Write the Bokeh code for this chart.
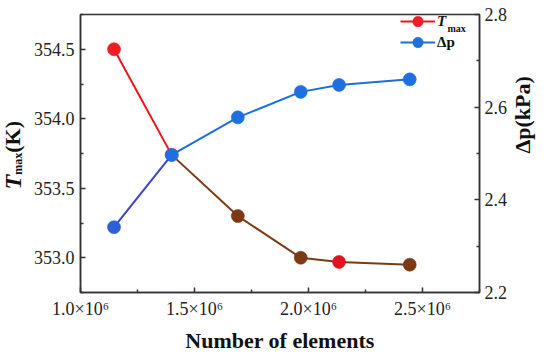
import math
from bokeh.plotting import figure
from bokeh.layouts import row
from bokeh.models import (Range1d, LinearAxis, FixedTicker, CustomJSTickFormatter, Div,
                          NumeralTickFormatter, Label, Legend, LegendItem, ColumnDataSource)
from bokeh.embed import file_html
from bokeh.resources import INLINE

# ---- data ----
n_elements = [1.147e6, 1.400e6, 1.690e6, 1.966e6, 2.134e6, 2.444e6]
t_max = [354.50, 353.74, 353.30, 353.00, 352.97, 352.95]
dp = [2.341, 2.497, 2.578, 2.633, 2.648, 2.660]

x_ticks = [1.0e6, 1.5e6, 2.0e6, 2.5e6]
x_minor = [1.25e6, 1.75e6, 2.25e6, 2.75e6]
t_ticks = [353.0, 353.5, 354.0, 354.5]
t_minor = [352.75, 353.25, 353.75, 354.25, 354.75]
dp_ticks = [2.2, 2.4, 2.6, 2.8]
dp_minor = [2.3, 2.5, 2.7]

# ---- styles ----
t_seg_colors = ["#e8161c", "#7a3b14", "#7a3b14", "#7a3b14", "#7a3b14"]
t_pt_colors = ["#ee1c24", "#ee1c24", "#7b3a14", "#7b3a14", "#e0141c", "#7b3a14"]
dp_seg_colors = ["#3d42c9", "#1a6fd8", "#1a6fd8", "#1a6fd8", "#1a6fd8"]
dp_pt_colors = ["#2f5fd8", "#1e6fe0", "#1e6fe0", "#1e6fe0", "#1e6fe0", "#1e6fe0"]

FONT = "Liberation Serif"
AX = "#333333"

p = figure(width=522, height=355, output_backend="svg", toolbar_location=None,
           x_range=Range1d(1.0e6, 2.75e6), y_range=Range1d(352.75, 354.75))
p.min_border = 0
p.min_border_left = 52
p.min_border_right = 64
p.min_border_top = 14
p.min_border_bottom = 56
p.xgrid.visible = False
p.ygrid.visible = False
p.outline_line_color = AX
p.outline_line_width = 1.5
p.background_fill_color = "white"
p.border_fill_color = "white"

p.extra_y_ranges = {"dp": Range1d(2.2, 2.8)}
raxis = LinearAxis(y_range_name="dp")
p.add_layout(raxis, "right")

p.xaxis.ticker = FixedTicker(ticks=x_ticks, minor_ticks=x_minor)
p.xaxis.formatter = CustomJSTickFormatter(code="return (tick/1e6).toFixed(1) + '\u00d710\u2076';")
p.yaxis[0].ticker = FixedTicker(ticks=t_ticks, minor_ticks=t_minor)
p.yaxis[0].formatter = NumeralTickFormatter(format="0.0")
raxis.ticker = FixedTicker(ticks=dp_ticks, minor_ticks=dp_minor)
raxis.formatter = NumeralTickFormatter(format="0.0")

for ax in [p.xaxis[0], p.yaxis[0], raxis]:
    ax.axis_line_color = AX
    ax.axis_line_width = 1.5
    ax.major_tick_line_color = AX
    ax.minor_tick_line_color = AX
    ax.major_tick_line_width = 1.5
    ax.minor_tick_line_width = 1.5
    ax.major_tick_in = 5
    ax.major_tick_out = 0
    ax.minor_tick_in = 3
    ax.minor_tick_out = 0
    ax.major_label_text_font = FONT
    ax.major_label_text_font_size = "18px"
    ax.major_label_text_color = "#222222"
    ax.major_label_standoff = 6

for ax, txt in [(p.xaxis[0], "Number of elements"), (raxis, "\u0394p(kPa)")]:
    ax.axis_label = txt
    ax.axis_label_text_font = FONT
    ax.axis_label_text_font_size = "22px"
    ax.axis_label_text_font_style = "bold"
    ax.axis_label_text_color = "#111111"
    ax.axis_label_standoff = 6
raxis.axis_label_standoff = 12
raxis.major_label_standoff = 5
raxis.axis_label_orientation = math.pi / 2

# ---- T_max series ----
t_seg = ColumnDataSource(dict(x0=n_elements[:-1], y0=t_max[:-1], x1=n_elements[1:], y1=t_max[1:],
                              c=t_seg_colors))
t_seg_r = p.segment("x0", "y0", "x1", "y1", source=t_seg, line_color="c", line_width=2)
t_pts = ColumnDataSource(dict(x=n_elements, y=t_max, c=t_pt_colors))
t_pt_r = p.scatter("x", "y", source=t_pts, size=13, fill_color="c", line_color="c",
                   line_alpha=0.6, line_width=1)

# ---- dp series ----
d_seg = ColumnDataSource(dict(x0=n_elements[:-1], y0=dp[:-1], x1=n_elements[1:], y1=dp[1:],
                              c=dp_seg_colors))
d_seg_r = p.segment("x0", "y0", "x1", "y1", source=d_seg, line_color="c", line_width=2,
                    y_range_name="dp")
d_pts = ColumnDataSource(dict(x=n_elements, y=dp, c=dp_pt_colors))
d_pt_r = p.scatter("x", "y", source=d_pts, size=13, fill_color="c", line_color="c",
                   line_alpha=0.6, line_width=1, y_range_name="dp")

# ---- legends ----
leg1 = Legend(items=[LegendItem(label="T", renderers=[t_seg_r, t_pt_r], index=0)],
              location=(320, 258))
leg2 = Legend(items=[LegendItem(label="\u0394p", renderers=[d_seg_r, d_pt_r], index=1)],
              location=(320, 237))
for lg, style in [(leg1, "bold italic"), (leg2, "bold")]:
    lg.border_line_color = None
    lg.background_fill_alpha = 0
    lg.padding = 0
    lg.margin = 0
    lg.spacing = 0
    lg.glyph_width = 35
    lg.glyph_height = 26
    lg.label_height = 26
    lg.label_standoff = 2
    lg.label_text_font = FONT
    lg.label_text_font_size = "15px"
    lg.label_text_font_style = style
    lg.label_text_color = "#111111"
    p.add_layout(lg, "center")

p.add_layout(Label(x=367, y=264, x_units="screen", y_units="screen", text="max",
                   text_font=FONT, text_font_size="10px", text_font_style="bold",
                   text_color="#111111", text_baseline="alphabetic"))

# ---- left title (rotated HTML text) ----
left_title = Div(
    text=("<div style=\"writing-mode:vertical-rl; transform:rotate(180deg); "
          "margin:121px 0 0 0; font-family:'Liberation Serif'; font-weight:bold; "
          "font-size:22px; line-height:26px; color:#111111; white-space:nowrap;\">"
          "<i style=\"font-size:24px;\">T</i>"
          "<sub style=\"font-size:12px;\">max</sub>(K)</div>"),
    width=28, height=355, margin=0)

layout = row(left_title, p, spacing=0)
open("out.html", "w").write(file_html(layout, INLINE))
